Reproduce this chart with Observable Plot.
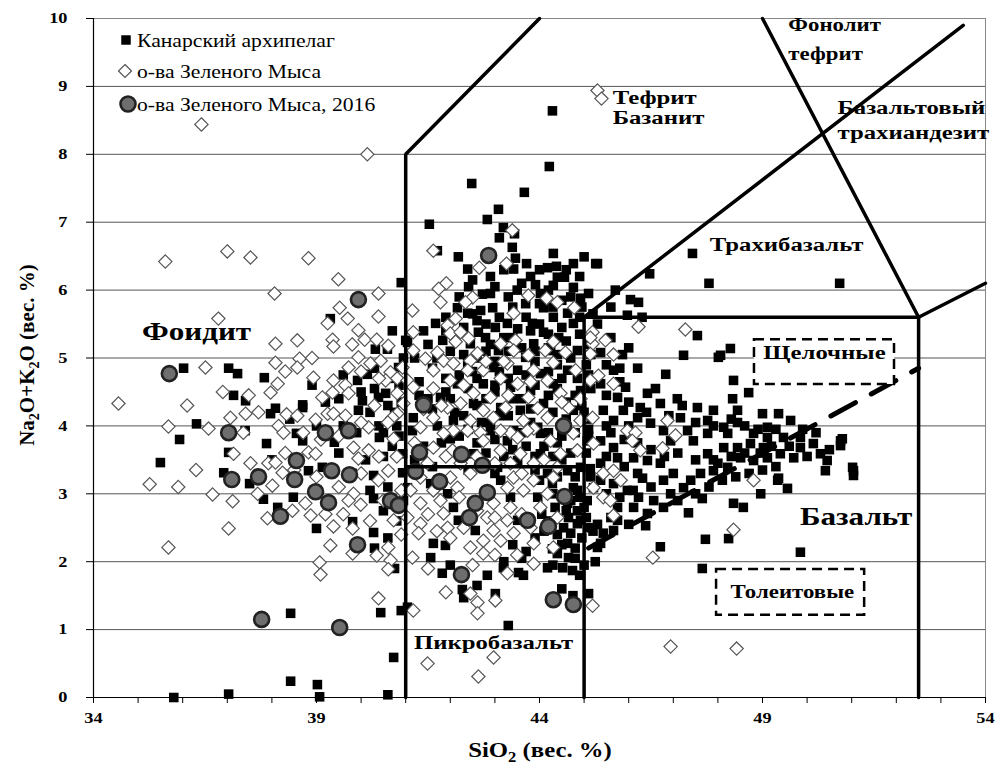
<!DOCTYPE html>
<html><head><meta charset="utf-8">
<script src="https://cdn.jsdelivr.net/npm/d3@7"></script>
<script src="https://cdn.jsdelivr.net/npm/@observablehq/plot@0.6"></script>
<style>body{margin:0;background:#fff} svg{font-family:"Liberation Serif","Times New Roman",serif}</style>
</head><body><div id="chart"></div>
<script>
// ---------- DATA (SiO2, Na2O+K2O), wt.% ----------
const seriesNames = ["Канарский архипелаг","о-ва Зеленого Мыса","о-ва Зеленого Мыса, 2016"];
const canary = [
[36.31,4.03],[35.93,3.80],[35.50,3.46],[37.03,3.61],[36.92,3.31],[37.50,3.15],[37.81,2.92],[37.88,3.74],[38.13,2.80],[38.48,2.95],[38.55,3.89],[38.69,4.27],[38.69,3.78],[39.00,2.49],[39.81,2.59],[40.28,2.43],[40.28,3.27],[40.28,2.93],[40.41,3.83],[39.40,3.76],[39.13,3.39],[38.82,3.34],[37.97,4.18],[39.94,4.23],[37.40,3.93],[40.93,3.59],[40.93,3.31],
[35.80,0.00],[37.03,0.05],[38.42,0.24],[39.02,0.19],[39.07,0.01],[40.60,0.04],[40.73,0.59],[38.42,1.24],[40.44,1.25],[40.90,1.28],
[40.90,6.11],[36.02,4.85],[37.03,4.85],[37.23,4.77],[37.83,4.71],[37.14,4.45],[37.41,4.37],[38.69,4.31],[39.31,5.58],[40.32,5.13],[40.59,5.13],[40.14,4.76],[40.84,4.86],[41.00,5.26],[39.92,4.67],[38.08,4.26],[40.03,4.37],[40.39,4.42],[40.55,4.48],
[40.60,4.30],[40.80,4.00],[40.50,3.90],[40.70,3.70],[40.30,4.55],[40.00,4.50],[40.85,4.60],[40.95,5.00],[40.70,5.40],[40.40,4.00],[39.60,4.00],[39.20,4.35],[39.60,4.75],
[39.80,3.30],[40.10,3.50],[40.50,3.55],[40.60,3.10],[40.20,3.05],[40.50,2.75],[39.90,3.90],[40.20,4.20],[40.75,4.20],[39.50,4.40],[39.00,4.00],[38.90,4.60],[38.40,4.10],[38.00,3.50],[39.50,3.60],[40.65,4.70],[40.30,4.85],[40.90,4.35],[40.85,3.85],[40.95,2.90],[40.80,2.60],[40.60,2.35],[40.30,2.20],[40.75,1.90],
[44.22,7.82],[42.48,7.57],[43.66,7.44],[43.08,7.19],[42.83,7.04],[41.53,6.97],[43.19,6.92],[43.44,6.83],[43.10,6.77],[43.39,6.63],[41.71,6.58],[42.18,6.49],[43.46,6.47],[43.71,6.39],[42.39,6.31],[43.42,6.31],[44.31,6.54],[44.18,6.33],[44.38,6.35],[44.76,6.39],[45.00,6.49],[45.26,6.39],[44.40,6.19],[44.56,6.19],[44.31,6.07],[44.76,6.04],[42.41,6.05],[42.72,5.94],[43.91,6.08],[44.02,5.95],[44.92,5.88],[43.69,5.80],[44.09,5.74],[42.95,5.74],[42.68,5.70],[42.39,5.66],[41.67,5.51],[42.16,5.74],[43.84,5.51],[44.31,5.60],[44.63,5.66],[44.76,5.51],[42.63,5.38],[43.01,5.45],[43.28,5.51],[43.51,5.43],[44.09,5.38],[42.45,5.21],[42.79,5.30],[43.87,5.21],[44.43,5.30],[41.04,5.23],[41.83,5.26],[43.08,5.11],[43.69,5.01],[44.25,5.11],[44.85,5.11],[42.39,4.92],[42.97,4.86],[43.51,4.82],[44.02,4.77],[44.63,4.82],[42.16,4.62],[42.74,4.62],[43.35,4.57],[43.80,4.52],[44.31,4.62],[44.92,4.52],[41.78,4.42],[42.52,4.33],[43.13,4.27],[43.57,4.23],[44.09,4.33],[44.76,4.23],[42.07,4.08],[42.90,4.04],[43.42,3.93],[43.96,3.98],[41.17,4.12],
[42.60,5.00],[42.90,5.20],[43.20,5.30],[43.70,5.60],[44.00,5.50],[44.50,5.45],[44.70,5.00],[44.40,4.90],[43.90,4.95],[43.30,4.70],[42.80,4.40],[43.00,4.50],[43.60,4.40],[44.20,4.45],[44.60,4.10],[44.80,3.90],[44.40,3.75],[43.70,3.70],[43.20,3.55],[42.60,3.75],[42.30,4.15],[42.00,4.40],[41.90,4.70],[41.50,4.40],[41.30,4.65],[41.20,5.00],[41.50,5.20],[42.00,5.10],[42.30,5.45],[42.60,5.55],[43.30,5.90],[43.50,6.00],[43.00,6.05],[42.50,6.15],[44.50,5.85],[44.90,5.60],[44.20,5.15],[43.60,5.15],[43.00,4.95],[42.50,4.80],[44.85,4.70],[44.95,4.30],[44.10,3.70],[43.80,4.05],[43.10,4.15],[42.70,4.05],[42.20,3.85],[41.80,3.75],[41.40,3.70],[41.20,3.50],[41.60,3.40],[42.40,3.35],[43.00,3.30],[43.90,3.35],[44.50,3.50],[44.80,3.25],[44.30,3.00],[44.60,2.75],[44.90,2.95],[44.20,2.60],[43.90,2.35],[44.40,2.40],[44.80,2.20],[45.00,1.95],[44.95,2.35],[44.50,1.60],[44.75,1.50],[43.20,2.00],[42.00,1.95],[42.60,1.65],
[43.80,6.20],[44.00,6.30],[44.60,6.30],[44.90,6.20],[43.20,6.30],[42.90,6.20],[42.20,5.90],[42.90,5.95],[43.60,6.10],[44.20,6.00],[44.70,5.90],[45.10,5.95],[41.90,5.60],[42.50,5.65],[43.10,5.60],[43.40,5.75],[44.00,5.80],[44.30,5.75],[44.95,5.75],[45.20,5.65],[41.40,5.40],[41.90,5.40],[42.10,5.30],[42.80,5.50],[43.40,5.30],[43.80,5.40],[44.20,5.35],[44.60,5.25],[44.90,5.35],[41.70,5.00],[42.30,5.05],[42.80,5.10],[43.30,5.10],[43.90,5.10],[44.40,5.05],[45.15,5.05],[41.60,4.85],[42.20,4.75],[42.60,4.70],[43.10,4.80],[43.70,4.75],[44.20,4.80],[44.50,4.70],[45.10,4.75],[41.30,4.45],[41.90,4.50],[42.40,4.55],[43.00,4.60],[43.40,4.40],[43.90,4.60],[44.40,4.55],[44.80,4.45],[41.60,4.25],[42.10,4.20],[42.60,4.30],[43.30,4.15],[43.80,4.25],[44.30,4.20],[44.60,4.35],[45.05,4.10],[42.40,3.95],[43.00,3.80],[43.60,3.90],[44.20,3.90],[44.50,3.85],[45.10,3.85],[42.80,3.60],[43.40,3.65],[43.90,3.55],[44.30,3.55],[44.70,3.60],
[44.00,3.20],[44.40,3.25],[44.05,2.70],[44.35,2.80],[44.10,2.45],[44.50,2.25],[44.80,2.05],[44.30,1.95],[44.90,1.80],[43.70,2.15],[43.40,2.25],[43.60,2.05],[44.70,2.90],[45.05,2.65],[45.20,2.45],[45.25,2.00],[44.85,3.05],
[41.62,2.27],[41.89,2.24],[41.56,2.06],[41.82,1.83],[42.27,1.59],[42.30,1.47],[42.83,1.80],[43.19,1.91],[43.53,1.84],[43.64,1.80],[43.01,1.53],[44.18,1.91],[44.52,1.91],[44.74,1.87],[44.40,2.12],[44.65,2.06],[44.29,2.19],[44.63,2.27],[44.70,2.42],[44.54,2.50],[44.85,2.56],[44.65,2.65],[44.85,2.75],[44.63,2.86],[45.07,2.90],[44.76,3.09],[44.29,3.15],[43.96,2.95],[44.18,3.30],[44.63,3.34],[44.92,3.39],[45.14,3.37],[45.21,3.09],[45.30,2.21],[45.10,1.53],[43.51,3.49],[43.06,3.39],[43.13,3.20],[42.07,2.80],[42.18,2.61],[42.56,2.46],[41.15,3.93],[41.71,4.00],[42.00,3.81],[42.90,3.93],[43.28,3.78],[44.02,3.89],[45.07,3.78],[42.52,3.59],[44.02,3.59],[41.56,3.15],[41.94,3.00],[43.35,2.95],[43.51,2.61],[44.92,2.61],[41.04,3.09],[41.04,1.33],[43.30,1.06],[44.29,8.64],
[45.30,6.39],[47.43,6.54],[46.47,6.24],[47.80,6.10],[46.04,5.86],[46.22,5.82],[45.97,5.63],[47.54,5.33],[48.28,5.14],[47.23,5.04],[48.01,5.01],[45.86,5.05],[45.37,5.08],[46.20,4.85],[46.83,4.76],[48.35,4.67],[48.69,4.49],[48.33,4.40],[45.66,4.82],[45.37,4.62],[45.93,4.57],[46.42,4.48],[45.75,4.42],[46.71,4.33],[47.09,4.40],[47.54,4.27],[47.90,4.23],[48.44,4.23],[49.00,4.18],[49.36,4.18],[49.63,4.08],[49.11,3.98],[45.43,4.23],[45.88,4.23],[46.26,4.27],[45.66,4.08],[46.20,4.12],[46.49,4.04],[47.16,4.12],[47.77,4.08],[48.13,3.98],[48.44,4.05],[47.32,3.93],[47.77,3.89],[48.22,3.89],[48.80,3.89],[49.11,3.83],[49.47,3.83],[49.85,3.83],[50.14,3.74],[50.30,3.59],[50.75,3.78],[50.45,3.49],[51.04,3.34],[50.41,3.34],[49.40,3.59],[49.70,3.53],[49.85,3.68],[49.02,3.68],[48.73,3.74],[48.44,3.68],[48.13,3.68],[47.77,3.59],[47.45,3.78],[46.94,3.78],[46.78,3.93],[45.37,3.78],[45.66,3.68],[45.75,3.53],[46.11,3.53],[46.42,3.49],[46.71,3.45],[45.37,3.45],[48.51,3.53],[48.80,3.49],[49.11,3.53],[48.22,3.39],[47.90,3.34],[47.61,3.30],[47.39,3.20],[47.23,3.09],[47.00,3.30],[46.78,3.20],[46.31,3.23],[45.37,3.20],[45.66,3.15],[45.97,3.05],[46.22,2.95],[46.56,2.90],[46.94,3.00],[46.78,2.80],[46.42,2.71],[46.11,2.80],[45.75,2.80],[45.75,2.61],[45.43,2.42],[45.66,2.46],[45.37,2.27],[46.38,2.53],[47.34,2.72],[47.65,2.93],[48.35,2.86],[48.57,2.80],[48.96,3.00],[49.36,3.23],[49.56,3.08],[47.72,2.33],[48.24,2.34],[46.71,2.22],[49.85,2.14],[51.04,3.27],[50.75,3.71],
[48.06,5.04],[47.65,1.90],[50.79,3.81],[51.02,3.39],[49.34,3.20],[50.73,6.10],
[45.10,5.20],[45.05,4.90],[45.15,4.55],[45.00,4.20],[45.10,3.95],[45.05,3.60],[45.15,3.25],[45.00,2.80],[45.10,2.50],
[45.50,4.45],[45.80,4.65],[46.00,4.35],[46.40,4.20],[46.60,4.55],[46.90,4.15],[47.20,4.30],[47.50,4.05],[47.90,4.00],[48.30,4.10],[48.60,4.00],[48.90,3.95],[49.30,3.95],[49.90,3.95],[50.20,3.90],[50.50,3.65],[50.00,3.55],[49.60,3.70],[49.20,3.70],[48.95,3.60],[48.60,3.60],[48.30,3.55],[47.90,3.50],[47.50,3.50],[47.10,3.60],[46.80,3.55],[46.50,3.65],[46.20,3.75],[45.90,3.80],[45.60,3.90],[45.50,4.00],[46.00,4.00],[45.50,3.55],[45.90,3.40],[46.20,3.30],[46.50,3.10],[46.10,3.05],[45.80,2.95],[45.50,3.00],[45.60,2.65],[46.00,2.55],[45.30,2.55],[47.10,2.90],[47.50,3.00],[47.80,3.10],[48.10,3.20],[48.40,3.25],[48.70,3.30],[49.00,3.35],[49.30,3.40],[48.00,3.45],[45.50,4.90],[45.80,4.85],[46.00,5.15],[45.60,5.30],[45.30,5.50],[45.60,5.75],[45.70,6.00],[46.30,5.60]
];
const capeVerde = [
[36.42,8.44],[40.14,8.00],[35.61,6.42],[37.00,6.57],[37.52,6.48],[38.82,6.47],[39.49,6.16],[38.06,5.95],[40.39,5.95],[39.52,5.74],[39.70,5.58],[40.39,5.61],[36.80,5.58],[39.25,5.51],[39.94,5.41],[40.08,5.27],[40.35,5.27],[39.36,5.27],[39.38,5.17],[38.08,5.21],[38.57,5.26],[36.51,4.86],[38.08,4.93],[38.62,4.99],[38.57,4.86],[38.13,4.62],[37.97,4.49],[38.93,4.71],[39.38,4.67],[39.36,4.49],[39.72,4.86],[39.94,5.01],[40.21,4.92],[40.44,4.96],[40.61,5.18],[40.66,4.79],[39.65,4.60],[37.48,4.45],[34.56,4.33],[39.13,4.42],[39.72,4.48],[40.55,4.67],[40.81,4.70],[40.81,4.48],
[35.68,3.99],[35.26,3.14],[35.68,2.21],[36.58,3.96],[37.07,4.12],[37.41,4.18],[37.36,3.90],[37.14,3.59],[36.67,2.99],[37.12,2.89],[37.03,2.49],[37.52,3.45],[37.68,3.00],[37.92,3.45],[38.08,3.46],[38.01,3.12],[38.15,4.00],[38.26,3.90],[38.33,4.17],[38.57,4.15],[38.24,3.31],[38.46,2.75],[37.90,2.64],[38.82,3.61],[38.98,3.59],[38.87,2.68],[38.75,2.86],[38.98,4.09],[39.25,4.18],[39.38,4.18],[39.65,4.15],[39.38,2.52],[39.31,2.24],[39.07,1.99],[39.09,1.81],[39.83,3.68],[39.94,3.52],[40.17,3.64],[39.83,3.00],[39.72,2.90],[39.99,2.84],[39.81,2.49],[39.81,2.12],[40.35,2.09],[40.61,2.21],[40.66,2.02],[40.61,1.89],[40.39,1.46],[40.17,3.98],[40.39,3.20],[40.61,3.34],[40.73,3.81],[40.73,2.61],[40.81,4.18],[40.70,4.12],
[40.30,4.30],[40.60,4.05],[40.00,4.05],[39.50,3.85],[39.10,3.80],[38.70,3.90],[38.30,3.60],[38.50,3.35],[39.00,3.25],[39.50,3.10],[40.00,3.30],[40.40,3.55],[40.80,3.55],[40.90,3.05],[40.50,2.90],[40.20,2.60],[40.90,2.40],[39.60,2.70],[39.20,2.70],[40.40,4.70],[40.00,4.80],[39.80,5.20],[38.90,5.00],[38.30,4.80],[37.70,4.20],[36.90,4.50],[36.10,4.30],[35.90,3.10],[36.30,3.35],
[43.39,6.88],[41.62,6.58],[42.65,6.33],[43.26,6.39],[41.91,6.10],[41.74,6.02],[41.78,5.82],[42.50,5.89],[42.34,5.82],[43.75,5.92],[44.16,5.88],[44.40,5.82],[44.78,5.74],[41.15,5.70],[43.42,5.66],[42.12,5.58],[41.94,5.48],[41.17,5.38],[42.00,5.36],[42.23,5.38],[45.19,5.38],[42.12,5.24],[42.41,5.29],[43.13,5.21],[43.46,5.26],[44.31,5.24],[45.19,5.21],[41.17,5.11],[41.71,5.08],[42.61,5.07],[43.42,5.11],[43.75,5.04],[44.13,5.11],[44.58,5.08],[41.44,4.99],[41.85,4.96],[42.07,4.92],[42.45,4.96],[43.28,4.92],[44.31,4.93],[40.93,4.86],[41.62,4.82],[42.39,4.82],[42.74,4.82],[43.87,4.82],[44.81,4.82],[41.04,4.67],[42.00,4.67],[43.13,4.70],[43.51,4.62],[44.18,4.67],[41.17,4.57],[41.62,4.55],[42.52,4.48],[42.90,4.42],[43.75,4.42],[44.47,4.48],[44.92,4.40],[40.95,4.33],[41.94,4.27],[42.23,4.33],[42.74,4.23],[43.24,4.27],[43.96,4.26],[44.65,4.27],[41.62,4.12],[42.45,4.08],[42.97,4.12],[43.64,4.08],[44.18,4.12],[44.92,4.08],[41.33,3.98],[42.07,3.93],[42.68,3.90],[43.35,3.90],[43.87,3.96],
[41.85,3.89],[42.39,3.93],[42.74,3.78],[43.13,3.93],[43.51,3.83],[43.73,3.93],[44.25,3.78],[44.76,3.89],[41.62,3.68],[42.05,3.64],[43.13,3.64],[43.57,3.59],[44.47,3.59],[44.85,3.64],[41.49,3.45],[42.23,3.45],[43.35,3.45],[43.87,3.45],[44.40,3.39],[41.33,3.24],[42.00,3.24],[42.45,3.30],[43.42,3.24],[43.87,3.20],[44.31,3.24],[41.11,3.05],[41.62,3.05],[42.16,3.09],[43.28,3.09],[43.64,3.05],[44.18,3.00],[41.33,2.86],[41.78,2.90],[42.97,2.86],[43.35,2.80],[44.02,2.80],[41.04,2.65],[41.85,2.71],[42.83,2.65],[43.28,2.61],[44.40,2.65],[41.33,2.56],[41.94,2.50],[42.97,2.46],[43.42,2.42],[41.29,2.42],[42.74,2.31],[43.13,2.31],[43.87,2.27],[44.31,2.21],[42.45,2.21],[42.74,2.12],[43.87,1.97],[43.28,1.83],[42.45,1.53],[42.61,1.40],[43.01,1.43],[42.61,1.24],[41.17,1.28],[41.15,2.06],[45.19,1.35],
[41.40,4.25],[41.20,3.75],[41.90,3.55],[42.60,3.55],[43.00,3.45],[43.60,3.30],[44.10,3.50],[41.50,2.70],[42.20,2.95],[42.60,2.75],[43.00,2.65],[43.60,2.70],[43.80,2.50],[42.00,2.35],[42.30,2.50],[41.70,2.45],[42.50,1.95],[43.00,2.10],[43.50,2.10],[41.50,1.90],[41.90,1.55],[42.80,4.95],[43.20,4.95],[43.80,4.65],[42.30,4.60],[41.80,4.30],[44.50,4.35],[43.30,4.45],
[41.49,0.50],[42.97,0.59],[42.63,0.31],
[46.22,5.46],[47.27,5.42],[45.48,5.26],[45.66,5.05],[45.14,5.30],[45.14,5.06],[45.32,4.74],[45.66,4.62],[45.14,4.67],[45.19,4.12],[46.87,4.08],[45.97,3.93],[46.15,3.90],[46.08,3.78],[46.26,3.64],[47.05,3.86],[46.76,3.67],[45.21,3.74],[45.43,3.30],[45.66,3.34],[45.82,3.20],[45.21,3.09],[45.43,2.95],[45.59,2.90],[45.66,2.68],[48.80,3.20],[48.35,2.47],[46.54,2.06],
[45.30,8.94],[45.39,8.82],[46.94,0.75],[48.42,0.72]
];
const capeVerde2016 = [
[39.94,5.86],[35.70,4.77],[37.03,3.90],[39.20,3.90],[39.72,3.93],[37.10,3.21],[37.70,3.25],[38.55,3.49],[38.51,3.21],[39.34,3.34],[39.74,3.28],[38.98,3.03],[39.27,2.87],[38.19,2.67],[39.92,2.25],[40.66,2.90],[40.84,2.83],[37.77,1.15],[39.52,1.03],[42.86,6.51],[41.40,4.31],[44.54,4.00],[41.31,3.61],[42.25,3.58],[42.72,3.42],[41.22,3.33],[41.76,3.18],[42.83,3.02],[42.56,2.86],[42.43,2.65],[43.73,2.61],[44.20,2.52],[44.56,2.96],[42.25,1.81],[44.31,1.44],[44.76,1.37]
];
// tick values
const xLabelTicks = [34,39,44,49,54];
const xMinorTicks = d3.range(34,55,1);
const yTicks = [0,1,2,3,4,5,6,7,8,9,10];
// TAS field boundaries (data units)
const boundaryFoidite = [[41,0],[41,8],[44,10]];
const boundaryPicro = [[41,3.4],[45,3.4]];
const boundaryBasalt = [[45,0],[45,5.6],[52.5,5.6],[52.5,0]];
const boundaryTrachy = [[45,5.6],[53.5,9.9]];
const boundaryBTA = [[52.5,5.6],[54,6.1]];
const boundaryPhonoTeph = [[49,10],[52.5,5.6]];
const alkalineDivide = [[45.1,2.2],[52.5,4.85]];
const seriesBoxes = [{x1:48.82,x2:51.96,y1:4.61,y2:5.27},{x1:47.97,x2:51.29,y1:1.21,y2:1.885}];
// field names
const fieldLabels = [
 {t:"Фоидит",x:36.31,y:5.38,a:"middle",k:"big"},
 {t:"Тефрит",x:45.64,y:8.84,a:"start",k:"mid"},
 {t:"Базанит",x:45.64,y:8.54,a:"start",k:"mid"},
 {t:"Фонолит",x:49.58,y:9.90,a:"start",k:"small"},
 {t:"тефрит",x:49.58,y:9.48,a:"start",k:"small"},
 {t:"Базальтовый",x:50.68,y:8.69,a:"start",k:"mid"},
 {t:"трахиандезит",x:50.68,y:8.31,a:"start",k:"mid"},
 {t:"Трахибазальт",x:49.54,y:6.67,a:"middle",k:"mid"},
 {t:"Щелочные",x:50.39,y:5.08,a:"middle",k:"mid"},
 {t:"Базальт",x:51.10,y:2.65,a:"middle",k:"big"},
 {t:"Толеитовые",x:49.67,y:1.55,a:"middle",k:"small"},
 {t:"Пикробазальт",x:42.97,y:0.80,a:"middle",k:"mid"}
];
const labelSize = {big:24.5, mid:19.5, small:18};
const labelStretch = 1.27;

// ---------- CHART ----------
const diamond = {draw(ctx, size){const r=Math.sqrt(size/2);ctx.moveTo(0,-r);ctx.lineTo(r,0);ctx.lineTo(0,r);ctx.lineTo(-r,0);ctx.closePath();}};
const X = d=>d[0], Y = d=>d[1];
const lineOpts = {x:X, y:Y, stroke:"#000", strokeWidth:3.5, strokeLinejoin:"miter"};

const chart = Plot.plot({
  width:1003, height:769,
  marginLeft:93, marginRight:18, marginTop:18, marginBottom:72,
  x:{domain:[34,54]}, y:{domain:[0,10]},
  style:{fontFamily:"Liberation Serif, serif", fontSize:"15px", fontWeight:"bold", color:"#000", background:"#fff"},
  marks:[
    Plot.ruleY(yTicks.filter(d=>d>0), {stroke:"#555", strokeWidth:1}),
    Plot.frame({stroke:"#888"}),
    Plot.dot(canary, {x:X, y:Y, symbol:"square", r:5.4, fill:"#000"}),
    Plot.dot(capeVerde, {x:X, y:Y, symbol:diamond, r:5.3, fill:"#fff", stroke:"#555", strokeWidth:1.2}),
    Plot.dot(capeVerde2016, {x:X, y:Y, symbol:"circle", r:7.5, fill:"#6e6e6e", stroke:"#222", strokeWidth:2.6}),
    Plot.line(boundaryFoidite, lineOpts),
    Plot.line(boundaryPicro, lineOpts),
    Plot.line(boundaryBasalt, lineOpts),
    Plot.line(boundaryTrachy, lineOpts),
    Plot.line(boundaryBTA, lineOpts),
    Plot.line(boundaryPhonoTeph, lineOpts),
    Plot.line(alkalineDivide, {x:X, y:Y, stroke:"#000", strokeWidth:5, strokeDasharray:"28,18"}),
    Plot.rect(seriesBoxes, {x1:"x1", x2:"x2", y1:"y1", y2:"y2", fill:"#fff", stroke:"#000", strokeWidth:2.5, strokeDasharray:"10,6"}),
    ...Object.keys(labelSize).flatMap(k => ["start","middle"].map(a =>
      Plot.text(fieldLabels.filter(d=>d.k===k && d.a===a), {x:"x", y:"y", text:"t", textAnchor:a, fontSize:labelSize[k], fontWeight:"bold", fill:"#000"}))),
    Plot.ruleY([0], {stroke:"#000", strokeWidth:1.2}),
    Plot.ruleX([34], {stroke:"#000", strokeWidth:1.2}),
    Plot.axisX(xMinorTicks, {tickSize:6, tickFormat:()=>"", label:null, stroke:"#000"}),
    Plot.axisY(yTicks, {tickSize:7, tickFormat:()=>"", label:null, stroke:"#000"}),
    // tick labels as text marks on the scales
    Plot.text(xLabelTicks, {x:d=>d, y:0, text:d=>String(d), dy:21, fontSize:15, fontWeight:"bold", fill:"#000"}),
    Plot.text(yTicks, {x:34, y:d=>d, text:d=>String(d), textAnchor:"end", dx:-26, fontSize:15, fontWeight:"bold", fill:"#000"})
  ]
});
document.getElementById("chart").append(chart);
const svg = d3.select(chart);

// post-style Plot's own texts: horizontally stretched like the source figure
const tickSet = new Set(yTicks.map(String).concat(xLabelTicks.map(String)));
const labelSet = new Set(fieldLabels.map(d=>d.t));
function stretch(el, s){
  const tr = el.getAttribute("transform");
  const m = tr && /translate\(\s*([-\d.e]+)[ ,]+([-\d.e]+)\s*\)/.exec(tr);
  if (m) {
    el.setAttribute("transform", `translate(${m[1]},${m[2]}) scale(${s},1)`);
  } else {
    const x = +el.getAttribute("x") || 0, y = +el.getAttribute("y") || 0;
    el.setAttribute("x", 0); el.setAttribute("y", 0);
    el.setAttribute("transform", `translate(${x},${y}) scale(${s},1)`);
  }
}
svg.selectAll("text").each(function(){
  const t = this.textContent;
  if (tickSet.has(t)) stretch(this, 1.22);
  else if (labelSet.has(t)) stretch(this, labelStretch);
});

// axis titles with subscripts
const xt = svg.append("text").attr("transform","translate(540,757) scale(1.18,1)").attr("text-anchor","middle").attr("font-size",21).attr("font-weight","bold").attr("fill","#000");
xt.append("tspan").text("SiO");
xt.append("tspan").attr("font-size",14).attr("dy",5).text("2");
xt.append("tspan").attr("dy",-5).text(" (вес. %)");
const yt = svg.append("text").attr("transform","translate(34,355) rotate(-90)").attr("text-anchor","middle").attr("font-size",21).attr("font-weight","bold").attr("fill","#000");
yt.append("tspan").text("Na");
yt.append("tspan").attr("font-size",14).attr("dy",5).text("2");
yt.append("tspan").attr("dy",-5).text("O+K");
yt.append("tspan").attr("font-size",14).attr("dy",5).text("2");
yt.append("tspan").attr("dy",-5).text("O (вес. %)");

// legend
const lg = svg.append("g").attr("font-size",19).attr("font-weight","normal").attr("text-anchor","start").attr("font-family","'Liberation Serif', serif");
const rows = [40,71,104];
lg.append("path").attr("transform",`translate(126,${rows[0]})`).attr("d", d3.symbol(d3.symbolSquare, 90)()).attr("fill","#000");
lg.append("path").attr("transform",`translate(125,${rows[1]})`).attr("d", d3.symbol(diamond, 85)()).attr("fill","#fff").attr("stroke","#555").attr("stroke-width",1.2);
lg.append("circle").attr("cx",128).attr("cy",rows[2]).attr("r",7.5).attr("fill","#6e6e6e").attr("stroke","#222").attr("stroke-width",2.6);
seriesNames.forEach((n,i)=>lg.append("text").attr("transform",`translate(137,${rows[i]}) scale(1.14,1)`).attr("dy","0.35em").attr("fill","#000").text(n));
</script></body></html>
